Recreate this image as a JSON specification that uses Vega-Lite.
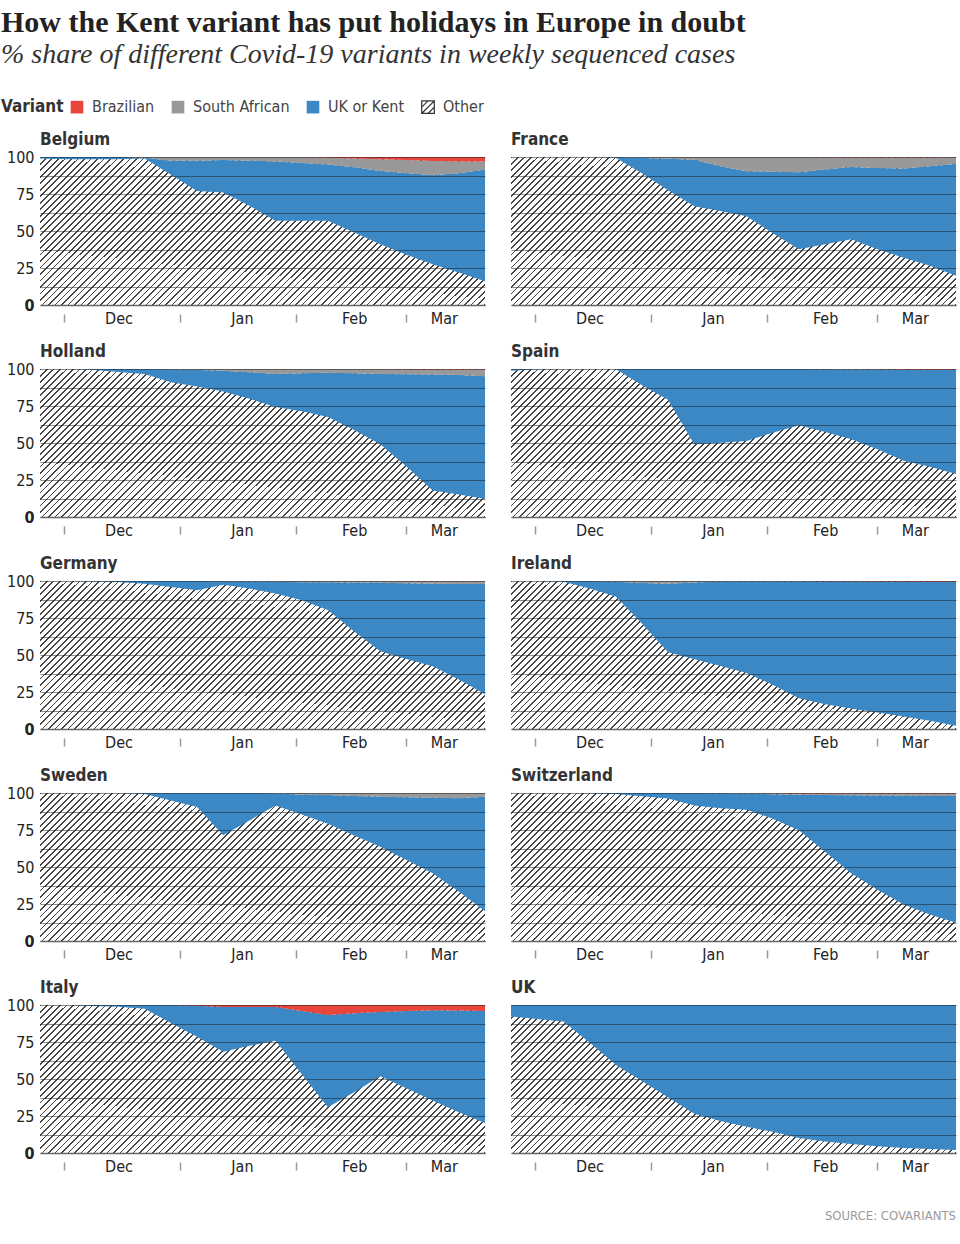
{
"$schema": "https://vega.github.io/schema/vega-lite/v6.json",
"background": "white",
"padding": {"left": 1, "top": 8, "right": 2, "bottom": 8},
"title": {"text": "How the Kent variant has put holidays in Europe in doubt", "subtitle": "% share of different Covid-19 variants in weekly sequenced cases", "anchor": "start", "frame": "bounds", "font": "Liberation Serif", "fontSize": 30, "fontWeight": "bold", "color": "#222", "subtitleFont": "Liberation Serif", "subtitleFontSize": 28, "subtitleFontStyle": "italic", "subtitleColor": "#333", "subtitlePadding": 3, "offset": 30, "dx": 0},
"data": {"values": [
{"country":"Belgium","week":"2020-11-23","d_oth":99,"c_uk":1,"b_saf":0,"a_bra":0},
{"country":"Belgium","week":"2020-11-30","d_oth":98.5,"c_uk":1.5,"b_saf":0,"a_bra":0},
{"country":"Belgium","week":"2020-12-07","d_oth":98.5,"c_uk":1.5,"b_saf":0,"a_bra":0},
{"country":"Belgium","week":"2020-12-14","d_oth":98.5,"c_uk":1.5,"b_saf":0,"a_bra":0},
{"country":"Belgium","week":"2020-12-21","d_oth":99,"c_uk":0.5,"b_saf":0.5,"a_bra":0},
{"country":"Belgium","week":"2020-12-28","d_oth":88,"c_uk":9.5,"b_saf":2.5,"a_bra":0},
{"country":"Belgium","week":"2021-01-04","d_oth":77,"c_uk":20.5,"b_saf":2.5,"a_bra":0},
{"country":"Belgium","week":"2021-01-11","d_oth":76,"c_uk":22,"b_saf":2,"a_bra":0},
{"country":"Belgium","week":"2021-01-18","d_oth":67,"c_uk":30.5,"b_saf":2.5,"a_bra":0},
{"country":"Belgium","week":"2021-01-25","d_oth":57,"c_uk":40,"b_saf":3,"a_bra":0},
{"country":"Belgium","week":"2021-02-01","d_oth":57,"c_uk":39,"b_saf":4,"a_bra":0},
{"country":"Belgium","week":"2021-02-08","d_oth":57,"c_uk":38,"b_saf":4.5,"a_bra":0.5},
{"country":"Belgium","week":"2021-02-15","d_oth":49,"c_uk":44,"b_saf":6,"a_bra":1},
{"country":"Belgium","week":"2021-02-22","d_oth":41,"c_uk":49.5,"b_saf":8,"a_bra":1.5},
{"country":"Belgium","week":"2021-03-01","d_oth":34,"c_uk":55,"b_saf":9,"a_bra":2},
{"country":"Belgium","week":"2021-03-08","d_oth":27.6,"c_uk":60,"b_saf":9.7,"a_bra":2.7},
{"country":"Belgium","week":"2021-03-15","d_oth":22,"c_uk":67,"b_saf":8,"a_bra":3},
{"country":"Belgium","week":"2021-03-22","d_oth":16,"c_uk":75.5,"b_saf":5.5,"a_bra":3},
{"country":"France","week":"2020-11-23","d_oth":100,"c_uk":0,"b_saf":0,"a_bra":0},
{"country":"France","week":"2020-11-30","d_oth":100,"c_uk":0,"b_saf":0,"a_bra":0},
{"country":"France","week":"2020-12-07","d_oth":100,"c_uk":0,"b_saf":0,"a_bra":0},
{"country":"France","week":"2020-12-14","d_oth":100,"c_uk":0,"b_saf":0,"a_bra":0},
{"country":"France","week":"2020-12-21","d_oth":99.5,"c_uk":0.5,"b_saf":0,"a_bra":0},
{"country":"France","week":"2020-12-28","d_oth":89,"c_uk":10.3,"b_saf":0.7,"a_bra":0},
{"country":"France","week":"2021-01-04","d_oth":77.6,"c_uk":21.3,"b_saf":1.1,"a_bra":0},
{"country":"France","week":"2021-01-11","d_oth":66.8,"c_uk":31.4,"b_saf":1.8,"a_bra":0},
{"country":"France","week":"2021-01-18","d_oth":63.5,"c_uk":30.2,"b_saf":6.3,"a_bra":0},
{"country":"France","week":"2021-01-25","d_oth":60,"c_uk":30.4,"b_saf":9.6,"a_bra":0},
{"country":"France","week":"2021-02-01","d_oth":48.4,"c_uk":41.6,"b_saf":10,"a_bra":0},
{"country":"France","week":"2021-02-08","d_oth":37.7,"c_uk":52,"b_saf":10.3,"a_bra":0},
{"country":"France","week":"2021-02-15","d_oth":41,"c_uk":50.5,"b_saf":8.3,"a_bra":0.2},
{"country":"France","week":"2021-02-22","d_oth":44.4,"c_uk":48.9,"b_saf":6.3,"a_bra":0.4},
{"country":"France","week":"2021-03-01","d_oth":37.7,"c_uk":54.9,"b_saf":7,"a_bra":0.4},
{"country":"France","week":"2021-03-08","d_oth":32,"c_uk":60.2,"b_saf":7.4,"a_bra":0.4},
{"country":"France","week":"2021-03-15","d_oth":26.5,"c_uk":67.2,"b_saf":6,"a_bra":0.3},
{"country":"France","week":"2021-03-22","d_oth":19.7,"c_uk":75.6,"b_saf":4.5,"a_bra":0.2},
{"country":"Holland","week":"2020-11-23","d_oth":100,"c_uk":0,"b_saf":0,"a_bra":0},
{"country":"Holland","week":"2020-11-30","d_oth":100,"c_uk":0,"b_saf":0,"a_bra":0},
{"country":"Holland","week":"2020-12-07","d_oth":99.5,"c_uk":0.5,"b_saf":0,"a_bra":0},
{"country":"Holland","week":"2020-12-14","d_oth":98,"c_uk":2,"b_saf":0,"a_bra":0},
{"country":"Holland","week":"2020-12-21","d_oth":96.6,"c_uk":3.4,"b_saf":0,"a_bra":0},
{"country":"Holland","week":"2020-12-28","d_oth":91,"c_uk":8.8,"b_saf":0.2,"a_bra":0},
{"country":"Holland","week":"2021-01-04","d_oth":88.2,"c_uk":11.1,"b_saf":0.7,"a_bra":0},
{"country":"Holland","week":"2021-01-11","d_oth":84.8,"c_uk":14.1,"b_saf":1.1,"a_bra":0},
{"country":"Holland","week":"2021-01-18","d_oth":79.9,"c_uk":17.9,"b_saf":2.2,"a_bra":0},
{"country":"Holland","week":"2021-01-25","d_oth":74.3,"c_uk":22.4,"b_saf":3.3,"a_bra":0},
{"country":"Holland","week":"2021-02-01","d_oth":71.4,"c_uk":25.7,"b_saf":2.9,"a_bra":0},
{"country":"Holland","week":"2021-02-08","d_oth":67.6,"c_uk":29.9,"b_saf":2.5,"a_bra":0},
{"country":"Holland","week":"2021-02-15","d_oth":58.7,"c_uk":38.4,"b_saf":2.9,"a_bra":0},
{"country":"Holland","week":"2021-02-22","d_oth":49.1,"c_uk":47.6,"b_saf":3.3,"a_bra":0},
{"country":"Holland","week":"2021-03-01","d_oth":34.2,"c_uk":62.2,"b_saf":3.3,"a_bra":0.3},
{"country":"Holland","week":"2021-03-08","d_oth":17.9,"c_uk":78.3,"b_saf":3.5,"a_bra":0.3},
{"country":"Holland","week":"2021-03-15","d_oth":15.2,"c_uk":80.8,"b_saf":3.7,"a_bra":0.3},
{"country":"Holland","week":"2021-03-22","d_oth":12.3,"c_uk":82.8,"b_saf":4.6,"a_bra":0.3},
{"country":"Spain","week":"2020-11-23","d_oth":98.9,"c_uk":1.1,"b_saf":0,"a_bra":0},
{"country":"Spain","week":"2020-11-30","d_oth":99.8,"c_uk":0.2,"b_saf":0,"a_bra":0},
{"country":"Spain","week":"2020-12-07","d_oth":100,"c_uk":0,"b_saf":0,"a_bra":0},
{"country":"Spain","week":"2020-12-14","d_oth":100,"c_uk":0,"b_saf":0,"a_bra":0},
{"country":"Spain","week":"2020-12-21","d_oth":100,"c_uk":0,"b_saf":0,"a_bra":0},
{"country":"Spain","week":"2020-12-28","d_oth":89,"c_uk":11,"b_saf":0,"a_bra":0},
{"country":"Spain","week":"2021-01-04","d_oth":79.2,"c_uk":20.8,"b_saf":0,"a_bra":0},
{"country":"Spain","week":"2021-01-11","d_oth":49.1,"c_uk":50.9,"b_saf":0,"a_bra":0},
{"country":"Spain","week":"2021-01-18","d_oth":50.2,"c_uk":49.8,"b_saf":0,"a_bra":0},
{"country":"Spain","week":"2021-01-25","d_oth":51.3,"c_uk":48.7,"b_saf":0,"a_bra":0},
{"country":"Spain","week":"2021-02-01","d_oth":57,"c_uk":43,"b_saf":0,"a_bra":0},
{"country":"Spain","week":"2021-02-08","d_oth":62,"c_uk":38,"b_saf":0,"a_bra":0},
{"country":"Spain","week":"2021-02-15","d_oth":57.4,"c_uk":42.4,"b_saf":0.2,"a_bra":0},
{"country":"Spain","week":"2021-02-22","d_oth":52.5,"c_uk":47.2,"b_saf":0.3,"a_bra":0},
{"country":"Spain","week":"2021-03-01","d_oth":45.8,"c_uk":53.8,"b_saf":0.2,"a_bra":0.2},
{"country":"Spain","week":"2021-03-08","d_oth":38,"c_uk":61.4,"b_saf":0.2,"a_bra":0.4},
{"country":"Spain","week":"2021-03-15","d_oth":34,"c_uk":65.3,"b_saf":0.2,"a_bra":0.5},
{"country":"Spain","week":"2021-03-22","d_oth":29,"c_uk":70.3,"b_saf":0.2,"a_bra":0.5},
{"country":"Germany","week":"2020-11-23","d_oth":100,"c_uk":0,"b_saf":0,"a_bra":0},
{"country":"Germany","week":"2020-11-30","d_oth":100,"c_uk":0,"b_saf":0,"a_bra":0},
{"country":"Germany","week":"2020-12-07","d_oth":99.6,"c_uk":0.4,"b_saf":0,"a_bra":0},
{"country":"Germany","week":"2020-12-14","d_oth":99.3,"c_uk":0.7,"b_saf":0,"a_bra":0},
{"country":"Germany","week":"2020-12-21","d_oth":98.2,"c_uk":1.8,"b_saf":0,"a_bra":0},
{"country":"Germany","week":"2020-12-28","d_oth":96,"c_uk":4,"b_saf":0,"a_bra":0},
{"country":"Germany","week":"2021-01-04","d_oth":93.8,"c_uk":6.2,"b_saf":0,"a_bra":0},
{"country":"Germany","week":"2021-01-11","d_oth":97.5,"c_uk":2.3,"b_saf":0.2,"a_bra":0},
{"country":"Germany","week":"2021-01-18","d_oth":94.9,"c_uk":4.7,"b_saf":0.4,"a_bra":0},
{"country":"Germany","week":"2021-01-25","d_oth":91.5,"c_uk":8,"b_saf":0.5,"a_bra":0},
{"country":"Germany","week":"2021-02-01","d_oth":87,"c_uk":12.2,"b_saf":0.8,"a_bra":0},
{"country":"Germany","week":"2021-02-08","d_oth":80.4,"c_uk":18.8,"b_saf":0.8,"a_bra":0},
{"country":"Germany","week":"2021-02-15","d_oth":65.8,"c_uk":33,"b_saf":1.2,"a_bra":0},
{"country":"Germany","week":"2021-02-22","d_oth":52.5,"c_uk":46.3,"b_saf":1.2,"a_bra":0},
{"country":"Germany","week":"2021-03-01","d_oth":47.3,"c_uk":51.2,"b_saf":1.4,"a_bra":0.1},
{"country":"Germany","week":"2021-03-08","d_oth":42.4,"c_uk":55.8,"b_saf":1.7,"a_bra":0.1},
{"country":"Germany","week":"2021-03-15","d_oth":33.5,"c_uk":64.5,"b_saf":1.9,"a_bra":0.1},
{"country":"Germany","week":"2021-03-22","d_oth":23.4,"c_uk":74.5,"b_saf":2,"a_bra":0.1},
{"country":"Ireland","week":"2020-11-23","d_oth":100,"c_uk":0,"b_saf":0,"a_bra":0},
{"country":"Ireland","week":"2020-11-30","d_oth":100,"c_uk":0,"b_saf":0,"a_bra":0},
{"country":"Ireland","week":"2020-12-07","d_oth":99.5,"c_uk":0.5,"b_saf":0,"a_bra":0},
{"country":"Ireland","week":"2020-12-14","d_oth":95,"c_uk":5,"b_saf":0,"a_bra":0},
{"country":"Ireland","week":"2020-12-21","d_oth":89.5,"c_uk":10,"b_saf":0.5,"a_bra":0},
{"country":"Ireland","week":"2020-12-28","d_oth":71.2,"c_uk":27.5,"b_saf":1.3,"a_bra":0},
{"country":"Ireland","week":"2021-01-04","d_oth":51.8,"c_uk":46.4,"b_saf":1.8,"a_bra":0},
{"country":"Ireland","week":"2021-01-11","d_oth":47.3,"c_uk":51.7,"b_saf":1,"a_bra":0},
{"country":"Ireland","week":"2021-01-18","d_oth":42.6,"c_uk":57,"b_saf":0.4,"a_bra":0},
{"country":"Ireland","week":"2021-01-25","d_oth":37.9,"c_uk":61.7,"b_saf":0.4,"a_bra":0},
{"country":"Ireland","week":"2021-02-01","d_oth":29.9,"c_uk":69.7,"b_saf":0.4,"a_bra":0},
{"country":"Ireland","week":"2021-02-08","d_oth":20.8,"c_uk":78.8,"b_saf":0.4,"a_bra":0},
{"country":"Ireland","week":"2021-02-15","d_oth":16.7,"c_uk":82.9,"b_saf":0.3,"a_bra":0.1},
{"country":"Ireland","week":"2021-02-22","d_oth":13.8,"c_uk":85.8,"b_saf":0.2,"a_bra":0.2},
{"country":"Ireland","week":"2021-03-01","d_oth":11.2,"c_uk":88.2,"b_saf":0.2,"a_bra":0.4},
{"country":"Ireland","week":"2021-03-08","d_oth":8.5,"c_uk":90.9,"b_saf":0.2,"a_bra":0.4},
{"country":"Ireland","week":"2021-03-15","d_oth":5.6,"c_uk":93.8,"b_saf":0.1,"a_bra":0.5},
{"country":"Ireland","week":"2021-03-22","d_oth":2.2,"c_uk":97.2,"b_saf":0.1,"a_bra":0.5},
{"country":"Sweden","week":"2020-11-23","d_oth":100,"c_uk":0,"b_saf":0,"a_bra":0},
{"country":"Sweden","week":"2020-11-30","d_oth":100,"c_uk":0,"b_saf":0,"a_bra":0},
{"country":"Sweden","week":"2020-12-07","d_oth":100,"c_uk":0,"b_saf":0,"a_bra":0},
{"country":"Sweden","week":"2020-12-14","d_oth":100,"c_uk":0,"b_saf":0,"a_bra":0},
{"country":"Sweden","week":"2020-12-21","d_oth":99.3,"c_uk":0.7,"b_saf":0,"a_bra":0},
{"country":"Sweden","week":"2020-12-28","d_oth":94.9,"c_uk":5.1,"b_saf":0,"a_bra":0},
{"country":"Sweden","week":"2021-01-04","d_oth":90.6,"c_uk":9.4,"b_saf":0,"a_bra":0},
{"country":"Sweden","week":"2021-01-11","d_oth":71.4,"c_uk":28.6,"b_saf":0,"a_bra":0},
{"country":"Sweden","week":"2021-01-18","d_oth":81.5,"c_uk":18.5,"b_saf":0,"a_bra":0},
{"country":"Sweden","week":"2021-01-25","d_oth":91.5,"c_uk":8.3,"b_saf":0.2,"a_bra":0},
{"country":"Sweden","week":"2021-02-01","d_oth":85.5,"c_uk":13.4,"b_saf":1.1,"a_bra":0},
{"country":"Sweden","week":"2021-02-08","d_oth":79.2,"c_uk":19.4,"b_saf":1.4,"a_bra":0},
{"country":"Sweden","week":"2021-02-15","d_oth":71.2,"c_uk":26.8,"b_saf":2,"a_bra":0},
{"country":"Sweden","week":"2021-02-22","d_oth":63.6,"c_uk":33.9,"b_saf":2.5,"a_bra":0},
{"country":"Sweden","week":"2021-03-01","d_oth":54.7,"c_uk":42.5,"b_saf":2.8,"a_bra":0},
{"country":"Sweden","week":"2021-03-08","d_oth":45.8,"c_uk":51,"b_saf":3.2,"a_bra":0},
{"country":"Sweden","week":"2021-03-15","d_oth":33.5,"c_uk":62.9,"b_saf":3.6,"a_bra":0},
{"country":"Sweden","week":"2021-03-22","d_oth":20.1,"c_uk":77.4,"b_saf":2.5,"a_bra":0},
{"country":"Switzerland","week":"2020-11-23","d_oth":100,"c_uk":0,"b_saf":0,"a_bra":0},
{"country":"Switzerland","week":"2020-11-30","d_oth":100,"c_uk":0,"b_saf":0,"a_bra":0},
{"country":"Switzerland","week":"2020-12-07","d_oth":100,"c_uk":0,"b_saf":0,"a_bra":0},
{"country":"Switzerland","week":"2020-12-14","d_oth":99.8,"c_uk":0.2,"b_saf":0,"a_bra":0},
{"country":"Switzerland","week":"2020-12-21","d_oth":99.3,"c_uk":0.7,"b_saf":0,"a_bra":0},
{"country":"Switzerland","week":"2020-12-28","d_oth":97.8,"c_uk":2.2,"b_saf":0,"a_bra":0},
{"country":"Switzerland","week":"2021-01-04","d_oth":96.2,"c_uk":3.8,"b_saf":0,"a_bra":0},
{"country":"Switzerland","week":"2021-01-11","d_oth":91.5,"c_uk":8.5,"b_saf":0,"a_bra":0},
{"country":"Switzerland","week":"2021-01-18","d_oth":89.7,"c_uk":10.2,"b_saf":0.1,"a_bra":0},
{"country":"Switzerland","week":"2021-01-25","d_oth":88.6,"c_uk":11.1,"b_saf":0.3,"a_bra":0},
{"country":"Switzerland","week":"2021-02-01","d_oth":82.6,"c_uk":16.6,"b_saf":0.6,"a_bra":0.2},
{"country":"Switzerland","week":"2021-02-08","d_oth":74.8,"c_uk":24.1,"b_saf":0.8,"a_bra":0.3},
{"country":"Switzerland","week":"2021-02-15","d_oth":60.3,"c_uk":38.4,"b_saf":1,"a_bra":0.3},
{"country":"Switzerland","week":"2021-02-22","d_oth":45.8,"c_uk":52.7,"b_saf":1.1,"a_bra":0.4},
{"country":"Switzerland","week":"2021-03-01","d_oth":34.6,"c_uk":63.7,"b_saf":1.3,"a_bra":0.4},
{"country":"Switzerland","week":"2021-03-08","d_oth":24.6,"c_uk":73.6,"b_saf":1.4,"a_bra":0.4},
{"country":"Switzerland","week":"2021-03-15","d_oth":17.9,"c_uk":80.1,"b_saf":1.6,"a_bra":0.4},
{"country":"Switzerland","week":"2021-03-22","d_oth":12.3,"c_uk":85.6,"b_saf":1.7,"a_bra":0.4},
{"country":"Italy","week":"2020-11-23","d_oth":100,"c_uk":0,"b_saf":0,"a_bra":0},
{"country":"Italy","week":"2020-11-30","d_oth":100,"c_uk":0,"b_saf":0,"a_bra":0},
{"country":"Italy","week":"2020-12-07","d_oth":99.3,"c_uk":0.7,"b_saf":0,"a_bra":0},
{"country":"Italy","week":"2020-12-14","d_oth":98.8,"c_uk":1.2,"b_saf":0,"a_bra":0},
{"country":"Italy","week":"2020-12-21","d_oth":97.5,"c_uk":2.5,"b_saf":0,"a_bra":0},
{"country":"Italy","week":"2020-12-28","d_oth":87.9,"c_uk":12.1,"b_saf":0,"a_bra":0},
{"country":"Italy","week":"2021-01-04","d_oth":78.5,"c_uk":21,"b_saf":0,"a_bra":0.5},
{"country":"Italy","week":"2021-01-11","d_oth":68.4,"c_uk":30.3,"b_saf":0,"a_bra":1.3},
{"country":"Italy","week":"2021-01-18","d_oth":72.4,"c_uk":26.3,"b_saf":0,"a_bra":1.3},
{"country":"Italy","week":"2021-01-25","d_oth":75.8,"c_uk":22.9,"b_saf":0,"a_bra":1.3},
{"country":"Italy","week":"2021-02-01","d_oth":53.2,"c_uk":42.8,"b_saf":0,"a_bra":4},
{"country":"Italy","week":"2021-02-08","d_oth":30.9,"c_uk":62.4,"b_saf":0,"a_bra":6.7},
{"country":"Italy","week":"2021-02-15","d_oth":41,"c_uk":53.5,"b_saf":0,"a_bra":5.5},
{"country":"Italy","week":"2021-02-22","d_oth":51.8,"c_uk":43.5,"b_saf":0,"a_bra":4.7},
{"country":"Italy","week":"2021-03-01","d_oth":43.7,"c_uk":52.3,"b_saf":0,"a_bra":4},
{"country":"Italy","week":"2021-03-08","d_oth":35.4,"c_uk":61,"b_saf":0,"a_bra":3.6},
{"country":"Italy","week":"2021-03-15","d_oth":27.6,"c_uk":68.6,"b_saf":0,"a_bra":3.8},
{"country":"Italy","week":"2021-03-22","d_oth":20.2,"c_uk":75.8,"b_saf":0,"a_bra":4},
{"country":"UK","week":"2020-11-23","d_oth":92.2,"c_uk":7.8,"b_saf":0,"a_bra":0},
{"country":"UK","week":"2020-11-30","d_oth":90.6,"c_uk":9.4,"b_saf":0,"a_bra":0},
{"country":"UK","week":"2020-12-07","d_oth":88.8,"c_uk":11.2,"b_saf":0,"a_bra":0},
{"country":"UK","week":"2020-12-14","d_oth":74.7,"c_uk":25.3,"b_saf":0,"a_bra":0},
{"country":"UK","week":"2020-12-21","d_oth":59.7,"c_uk":40.3,"b_saf":0,"a_bra":0},
{"country":"UK","week":"2020-12-28","d_oth":48.6,"c_uk":51.4,"b_saf":0,"a_bra":0},
{"country":"UK","week":"2021-01-04","d_oth":37.6,"c_uk":62.4,"b_saf":0,"a_bra":0},
{"country":"UK","week":"2021-01-11","d_oth":26.6,"c_uk":73.4,"b_saf":0,"a_bra":0},
{"country":"UK","week":"2021-01-18","d_oth":21.7,"c_uk":78.3,"b_saf":0,"a_bra":0},
{"country":"UK","week":"2021-01-25","d_oth":17.7,"c_uk":82.3,"b_saf":0,"a_bra":0},
{"country":"UK","week":"2021-02-01","d_oth":14.3,"c_uk":85.7,"b_saf":0,"a_bra":0},
{"country":"UK","week":"2021-02-08","d_oth":10.1,"c_uk":89.9,"b_saf":0,"a_bra":0},
{"country":"UK","week":"2021-02-15","d_oth":7.8,"c_uk":92.2,"b_saf":0,"a_bra":0},
{"country":"UK","week":"2021-02-22","d_oth":6,"c_uk":94,"b_saf":0,"a_bra":0},
{"country":"UK","week":"2021-03-01","d_oth":4.5,"c_uk":95.5,"b_saf":0,"a_bra":0},
{"country":"UK","week":"2021-03-08","d_oth":3.4,"c_uk":96.6,"b_saf":0,"a_bra":0},
{"country":"UK","week":"2021-03-15","d_oth":2.7,"c_uk":97.3,"b_saf":0,"a_bra":0},
{"country":"UK","week":"2021-03-22","d_oth":2,"c_uk":98,"b_saf":0,"a_bra":0}
]},
"transform": [{"fold": ["d_oth", "c_uk", "b_saf", "a_bra"], "as": ["variant", "share"]}],
"facet": {"field": "country", "type": "nominal", "title": "SOURCE: COVARIANTS",
  "sort": ["Belgium", "France", "Holland", "Spain", "Germany", "Ireland", "Sweden", "Switzerland", "Italy", "UK"],
  "header": {"labelOrient": "top", "titleOrient": "bottom", "titleAnchor": "end", "titleFontSize": 13, "titleFontWeight": "normal", "titleColor": "#9a9a9a", "titlePadding": 36}},
"columns": 2,
"spacing": {"row": 17, "column": 26},
"resolve": {"axis": {"x": "independent"}},
"spec": {
  "width": 445,
  "height": 148,
  "layer": [
    {
      "transform": [{"filter": "datum.variant === 'd_oth'"}],
      "mark": {"type": "area", "color": {"gradient": "linear", "x1": 0, "y1": 0, "x2": 1.315, "y2": 0.438, "stops": [
{"offset":0,"color":"#444"},{"offset":0.0025,"color":"#444"},{"offset":0.0025,"color":"#fff"},{"offset":0.01,"color":"#fff"},
{"offset":0.01,"color":"#444"},{"offset":0.0125,"color":"#444"},{"offset":0.0125,"color":"#fff"},{"offset":0.02,"color":"#fff"},
{"offset":0.02,"color":"#444"},{"offset":0.0225,"color":"#444"},{"offset":0.0225,"color":"#fff"},{"offset":0.03,"color":"#fff"},
{"offset":0.03,"color":"#444"},{"offset":0.0325,"color":"#444"},{"offset":0.0325,"color":"#fff"},{"offset":0.04,"color":"#fff"},
{"offset":0.04,"color":"#444"},{"offset":0.0425,"color":"#444"},{"offset":0.0425,"color":"#fff"},{"offset":0.05,"color":"#fff"},
{"offset":0.05,"color":"#444"},{"offset":0.0525,"color":"#444"},{"offset":0.0525,"color":"#fff"},{"offset":0.06,"color":"#fff"},
{"offset":0.06,"color":"#444"},{"offset":0.0625,"color":"#444"},{"offset":0.0625,"color":"#fff"},{"offset":0.07,"color":"#fff"},
{"offset":0.07,"color":"#444"},{"offset":0.0725,"color":"#444"},{"offset":0.0725,"color":"#fff"},{"offset":0.08,"color":"#fff"},
{"offset":0.08,"color":"#444"},{"offset":0.0825,"color":"#444"},{"offset":0.0825,"color":"#fff"},{"offset":0.09,"color":"#fff"},
{"offset":0.09,"color":"#444"},{"offset":0.0925,"color":"#444"},{"offset":0.0925,"color":"#fff"},{"offset":0.1,"color":"#fff"},
{"offset":0.1,"color":"#444"},{"offset":0.1025,"color":"#444"},{"offset":0.1025,"color":"#fff"},{"offset":0.11,"color":"#fff"},
{"offset":0.11,"color":"#444"},{"offset":0.1125,"color":"#444"},{"offset":0.1125,"color":"#fff"},{"offset":0.12,"color":"#fff"},
{"offset":0.12,"color":"#444"},{"offset":0.1225,"color":"#444"},{"offset":0.1225,"color":"#fff"},{"offset":0.13,"color":"#fff"},
{"offset":0.13,"color":"#444"},{"offset":0.1325,"color":"#444"},{"offset":0.1325,"color":"#fff"},{"offset":0.14,"color":"#fff"},
{"offset":0.14,"color":"#444"},{"offset":0.1425,"color":"#444"},{"offset":0.1425,"color":"#fff"},{"offset":0.15,"color":"#fff"},
{"offset":0.15,"color":"#444"},{"offset":0.1525,"color":"#444"},{"offset":0.1525,"color":"#fff"},{"offset":0.16,"color":"#fff"},
{"offset":0.16,"color":"#444"},{"offset":0.1625,"color":"#444"},{"offset":0.1625,"color":"#fff"},{"offset":0.17,"color":"#fff"},
{"offset":0.17,"color":"#444"},{"offset":0.1725,"color":"#444"},{"offset":0.1725,"color":"#fff"},{"offset":0.18,"color":"#fff"},
{"offset":0.18,"color":"#444"},{"offset":0.1825,"color":"#444"},{"offset":0.1825,"color":"#fff"},{"offset":0.19,"color":"#fff"},
{"offset":0.19,"color":"#444"},{"offset":0.1925,"color":"#444"},{"offset":0.1925,"color":"#fff"},{"offset":0.2,"color":"#fff"},
{"offset":0.2,"color":"#444"},{"offset":0.2025,"color":"#444"},{"offset":0.2025,"color":"#fff"},{"offset":0.21,"color":"#fff"},
{"offset":0.21,"color":"#444"},{"offset":0.2125,"color":"#444"},{"offset":0.2125,"color":"#fff"},{"offset":0.22,"color":"#fff"},
{"offset":0.22,"color":"#444"},{"offset":0.2225,"color":"#444"},{"offset":0.2225,"color":"#fff"},{"offset":0.23,"color":"#fff"},
{"offset":0.23,"color":"#444"},{"offset":0.2325,"color":"#444"},{"offset":0.2325,"color":"#fff"},{"offset":0.24,"color":"#fff"},
{"offset":0.24,"color":"#444"},{"offset":0.2425,"color":"#444"},{"offset":0.2425,"color":"#fff"},{"offset":0.25,"color":"#fff"},
{"offset":0.25,"color":"#444"},{"offset":0.2525,"color":"#444"},{"offset":0.2525,"color":"#fff"},{"offset":0.26,"color":"#fff"},
{"offset":0.26,"color":"#444"},{"offset":0.2625,"color":"#444"},{"offset":0.2625,"color":"#fff"},{"offset":0.27,"color":"#fff"},
{"offset":0.27,"color":"#444"},{"offset":0.2725,"color":"#444"},{"offset":0.2725,"color":"#fff"},{"offset":0.28,"color":"#fff"},
{"offset":0.28,"color":"#444"},{"offset":0.2825,"color":"#444"},{"offset":0.2825,"color":"#fff"},{"offset":0.29,"color":"#fff"},
{"offset":0.29,"color":"#444"},{"offset":0.2925,"color":"#444"},{"offset":0.2925,"color":"#fff"},{"offset":0.3,"color":"#fff"},
{"offset":0.3,"color":"#444"},{"offset":0.3025,"color":"#444"},{"offset":0.3025,"color":"#fff"},{"offset":0.31,"color":"#fff"},
{"offset":0.31,"color":"#444"},{"offset":0.3125,"color":"#444"},{"offset":0.3125,"color":"#fff"},{"offset":0.32,"color":"#fff"},
{"offset":0.32,"color":"#444"},{"offset":0.3225,"color":"#444"},{"offset":0.3225,"color":"#fff"},{"offset":0.33,"color":"#fff"},
{"offset":0.33,"color":"#444"},{"offset":0.3325,"color":"#444"},{"offset":0.3325,"color":"#fff"},{"offset":0.34,"color":"#fff"},
{"offset":0.34,"color":"#444"},{"offset":0.3425,"color":"#444"},{"offset":0.3425,"color":"#fff"},{"offset":0.35,"color":"#fff"},
{"offset":0.35,"color":"#444"},{"offset":0.3525,"color":"#444"},{"offset":0.3525,"color":"#fff"},{"offset":0.36,"color":"#fff"},
{"offset":0.36,"color":"#444"},{"offset":0.3625,"color":"#444"},{"offset":0.3625,"color":"#fff"},{"offset":0.37,"color":"#fff"},
{"offset":0.37,"color":"#444"},{"offset":0.3725,"color":"#444"},{"offset":0.3725,"color":"#fff"},{"offset":0.38,"color":"#fff"},
{"offset":0.38,"color":"#444"},{"offset":0.3825,"color":"#444"},{"offset":0.3825,"color":"#fff"},{"offset":0.39,"color":"#fff"},
{"offset":0.39,"color":"#444"},{"offset":0.3925,"color":"#444"},{"offset":0.3925,"color":"#fff"},{"offset":0.4,"color":"#fff"},
{"offset":0.4,"color":"#444"},{"offset":0.4025,"color":"#444"},{"offset":0.4025,"color":"#fff"},{"offset":0.41,"color":"#fff"},
{"offset":0.41,"color":"#444"},{"offset":0.4125,"color":"#444"},{"offset":0.4125,"color":"#fff"},{"offset":0.42,"color":"#fff"},
{"offset":0.42,"color":"#444"},{"offset":0.4225,"color":"#444"},{"offset":0.4225,"color":"#fff"},{"offset":0.43,"color":"#fff"},
{"offset":0.43,"color":"#444"},{"offset":0.4325,"color":"#444"},{"offset":0.4325,"color":"#fff"},{"offset":0.44,"color":"#fff"},
{"offset":0.44,"color":"#444"},{"offset":0.4425,"color":"#444"},{"offset":0.4425,"color":"#fff"},{"offset":0.45,"color":"#fff"},
{"offset":0.45,"color":"#444"},{"offset":0.4525,"color":"#444"},{"offset":0.4525,"color":"#fff"},{"offset":0.46,"color":"#fff"},
{"offset":0.46,"color":"#444"},{"offset":0.4625,"color":"#444"},{"offset":0.4625,"color":"#fff"},{"offset":0.47,"color":"#fff"},
{"offset":0.47,"color":"#444"},{"offset":0.4725,"color":"#444"},{"offset":0.4725,"color":"#fff"},{"offset":0.48,"color":"#fff"},
{"offset":0.48,"color":"#444"},{"offset":0.4825,"color":"#444"},{"offset":0.4825,"color":"#fff"},{"offset":0.49,"color":"#fff"},
{"offset":0.49,"color":"#444"},{"offset":0.4925,"color":"#444"},{"offset":0.4925,"color":"#fff"},{"offset":0.5,"color":"#fff"},
{"offset":0.5,"color":"#444"},{"offset":0.5025,"color":"#444"},{"offset":0.5025,"color":"#fff"},{"offset":0.51,"color":"#fff"},
{"offset":0.51,"color":"#444"},{"offset":0.5125,"color":"#444"},{"offset":0.5125,"color":"#fff"},{"offset":0.52,"color":"#fff"},
{"offset":0.52,"color":"#444"},{"offset":0.5225,"color":"#444"},{"offset":0.5225,"color":"#fff"},{"offset":0.53,"color":"#fff"},
{"offset":0.53,"color":"#444"},{"offset":0.5325,"color":"#444"},{"offset":0.5325,"color":"#fff"},{"offset":0.54,"color":"#fff"},
{"offset":0.54,"color":"#444"},{"offset":0.5425,"color":"#444"},{"offset":0.5425,"color":"#fff"},{"offset":0.55,"color":"#fff"},
{"offset":0.55,"color":"#444"},{"offset":0.5525,"color":"#444"},{"offset":0.5525,"color":"#fff"},{"offset":0.56,"color":"#fff"},
{"offset":0.56,"color":"#444"},{"offset":0.5625,"color":"#444"},{"offset":0.5625,"color":"#fff"},{"offset":0.57,"color":"#fff"},
{"offset":0.57,"color":"#444"},{"offset":0.5725,"color":"#444"},{"offset":0.5725,"color":"#fff"},{"offset":0.58,"color":"#fff"},
{"offset":0.58,"color":"#444"},{"offset":0.5825,"color":"#444"},{"offset":0.5825,"color":"#fff"},{"offset":0.59,"color":"#fff"},
{"offset":0.59,"color":"#444"},{"offset":0.5925,"color":"#444"},{"offset":0.5925,"color":"#fff"},{"offset":0.6,"color":"#fff"},
{"offset":0.6,"color":"#444"},{"offset":0.6025,"color":"#444"},{"offset":0.6025,"color":"#fff"},{"offset":0.61,"color":"#fff"},
{"offset":0.61,"color":"#444"},{"offset":0.6125,"color":"#444"},{"offset":0.6125,"color":"#fff"},{"offset":0.62,"color":"#fff"},
{"offset":0.62,"color":"#444"},{"offset":0.6225,"color":"#444"},{"offset":0.6225,"color":"#fff"},{"offset":0.63,"color":"#fff"},
{"offset":0.63,"color":"#444"},{"offset":0.6325,"color":"#444"},{"offset":0.6325,"color":"#fff"},{"offset":0.64,"color":"#fff"},
{"offset":0.64,"color":"#444"},{"offset":0.6425,"color":"#444"},{"offset":0.6425,"color":"#fff"},{"offset":0.65,"color":"#fff"},
{"offset":0.65,"color":"#444"},{"offset":0.6525,"color":"#444"},{"offset":0.6525,"color":"#fff"},{"offset":0.66,"color":"#fff"},
{"offset":0.66,"color":"#444"},{"offset":0.6625,"color":"#444"},{"offset":0.6625,"color":"#fff"},{"offset":0.67,"color":"#fff"},
{"offset":0.67,"color":"#444"},{"offset":0.6725,"color":"#444"},{"offset":0.6725,"color":"#fff"},{"offset":0.68,"color":"#fff"},
{"offset":0.68,"color":"#444"},{"offset":0.6825,"color":"#444"},{"offset":0.6825,"color":"#fff"},{"offset":0.69,"color":"#fff"},
{"offset":0.69,"color":"#444"},{"offset":0.6925,"color":"#444"},{"offset":0.6925,"color":"#fff"},{"offset":0.7,"color":"#fff"},
{"offset":0.7,"color":"#444"},{"offset":0.7025,"color":"#444"},{"offset":0.7025,"color":"#fff"},{"offset":0.71,"color":"#fff"},
{"offset":0.71,"color":"#444"},{"offset":0.7125,"color":"#444"},{"offset":0.7125,"color":"#fff"},{"offset":0.72,"color":"#fff"},
{"offset":0.72,"color":"#444"},{"offset":0.7225,"color":"#444"},{"offset":0.7225,"color":"#fff"},{"offset":0.73,"color":"#fff"},
{"offset":0.73,"color":"#444"},{"offset":0.7325,"color":"#444"},{"offset":0.7325,"color":"#fff"},{"offset":0.74,"color":"#fff"},
{"offset":0.74,"color":"#444"},{"offset":0.7425,"color":"#444"},{"offset":0.7425,"color":"#fff"},{"offset":0.75,"color":"#fff"},
{"offset":0.75,"color":"#444"},{"offset":0.7525,"color":"#444"},{"offset":0.7525,"color":"#fff"},{"offset":0.76,"color":"#fff"},
{"offset":0.76,"color":"#444"},{"offset":0.7625,"color":"#444"},{"offset":0.7625,"color":"#fff"},{"offset":0.77,"color":"#fff"},
{"offset":0.77,"color":"#444"},{"offset":0.7725,"color":"#444"},{"offset":0.7725,"color":"#fff"},{"offset":0.78,"color":"#fff"},
{"offset":0.78,"color":"#444"},{"offset":0.7825,"color":"#444"},{"offset":0.7825,"color":"#fff"},{"offset":0.79,"color":"#fff"},
{"offset":0.79,"color":"#444"},{"offset":0.7925,"color":"#444"},{"offset":0.7925,"color":"#fff"},{"offset":0.8,"color":"#fff"},
{"offset":0.8,"color":"#444"},{"offset":0.8025,"color":"#444"},{"offset":0.8025,"color":"#fff"},{"offset":0.81,"color":"#fff"},
{"offset":0.81,"color":"#444"},{"offset":0.8125,"color":"#444"},{"offset":0.8125,"color":"#fff"},{"offset":0.82,"color":"#fff"},
{"offset":0.82,"color":"#444"},{"offset":0.8225,"color":"#444"},{"offset":0.8225,"color":"#fff"},{"offset":0.83,"color":"#fff"},
{"offset":0.83,"color":"#444"},{"offset":0.8325,"color":"#444"},{"offset":0.8325,"color":"#fff"},{"offset":0.84,"color":"#fff"},
{"offset":0.84,"color":"#444"},{"offset":0.8425,"color":"#444"},{"offset":0.8425,"color":"#fff"},{"offset":0.85,"color":"#fff"},
{"offset":0.85,"color":"#444"},{"offset":0.8525,"color":"#444"},{"offset":0.8525,"color":"#fff"},{"offset":0.86,"color":"#fff"},
{"offset":0.86,"color":"#444"},{"offset":0.8625,"color":"#444"},{"offset":0.8625,"color":"#fff"},{"offset":0.87,"color":"#fff"},
{"offset":0.87,"color":"#444"},{"offset":0.8725,"color":"#444"},{"offset":0.8725,"color":"#fff"},{"offset":0.88,"color":"#fff"},
{"offset":0.88,"color":"#444"},{"offset":0.8825,"color":"#444"},{"offset":0.8825,"color":"#fff"},{"offset":0.89,"color":"#fff"},
{"offset":0.89,"color":"#444"},{"offset":0.8925,"color":"#444"},{"offset":0.8925,"color":"#fff"},{"offset":0.9,"color":"#fff"},
{"offset":0.9,"color":"#444"},{"offset":0.9025,"color":"#444"},{"offset":0.9025,"color":"#fff"},{"offset":0.91,"color":"#fff"},
{"offset":0.91,"color":"#444"},{"offset":0.9125,"color":"#444"},{"offset":0.9125,"color":"#fff"},{"offset":0.92,"color":"#fff"},
{"offset":0.92,"color":"#444"},{"offset":0.9225,"color":"#444"},{"offset":0.9225,"color":"#fff"},{"offset":0.93,"color":"#fff"},
{"offset":0.93,"color":"#444"},{"offset":0.9325,"color":"#444"},{"offset":0.9325,"color":"#fff"},{"offset":1,"color":"#fff"}
      ]}},
      "encoding": {
        "x": {"field": "week", "type": "temporal"},
        "y": {"datum": 100, "type": "quantitative"}
      }
    },
    {
      "mark": {"type": "area", "clip": true},
      "encoding": {
        "x": {"field": "week", "type": "temporal", "scale": {"type": "utc", "nice": false},
          "axis": {"title": null, "grid": false, "zindex": 1, "tickCount": 20,
            "values": [
              {"year": 2020, "month": 11, "date": 29, "hours": 12, "utc": true},
              {"year": 2020, "month": 12, "date": 14, "utc": true},
              {"year": 2020, "month": 12, "date": 30, "hours": 12, "utc": true},
              {"year": 2021, "month": 1, "date": 16, "utc": true},
              {"year": 2021, "month": 1, "date": 30, "hours": 12, "utc": true},
              {"year": 2021, "month": 2, "date": 15, "utc": true},
              {"year": 2021, "month": 3, "date": 1, "utc": true},
              {"year": 2021, "month": 3, "date": 11, "utc": true}
            ],
            "labelExpr": "utcdate(datum.value) > 5 && utcdate(datum.value) < 25 ? utcFormat(datum.value, '%b') : ''",
            "tickOpacity": {"condition": {"test": "utcdate(datum.value) > 5 && utcdate(datum.value) < 25", "value": 0}, "value": 1},
            "tickSize": 17, "tickDash": [0, 9, 8, 40], "tickColor": "#9a9a9a", "tickWidth": 1.5,
            "labelPadding": -12, "labelFontSize": 16, "labelColor": "#222", "labelFlush": false, "labelOverlap": false,
            "domainColor": "#666", "domainWidth": 1.5}},
        "y": {"field": "share", "type": "quantitative", "stack": "zero", "scale": {"domain": [0, 100], "nice": false},
          "axis": {"title": null, "values": [0, 12.5, 25, 37.5, 50, 62.5, 75, 87.5, 100], "tickCount": 20,
            "labelExpr": "datum.value % 25 === 0 ? datum.label : ''", "labelOverlap": false,
            "domain": false, "ticks": false, "grid": true, "gridColor": "#1a1a1a", "gridOpacity": 0.5, "gridWidth": 1, "zindex": 1,
            "labelFontSize": 16, "labelColor": "#222", "labelPadding": 6,
            "labelFontWeight": {"condition": {"test": "datum.value === 0", "value": "bold"}, "value": "normal"}}},
        "color": {"field": "variant", "type": "nominal",
          "scale": {"domain": ["a_bra", "b_saf", "c_uk", "d_oth"], "range": ["#e8453c", "#999999", "#3b88c4", "transparent"]},
          "legend": {"title": "Variant", "orient": "none", "legendX": -39, "legendY": -58, "direction": "horizontal", "titleOrient": "left",
            "titleFontSize": 17, "titleFontWeight": "bold", "titleColor": "#333", "titlePadding": 5,
            "labelFontSize": 16, "labelColor": "#444", "labelOffset": 7, "columnPadding": 14,
            "symbolSize": 160, "symbolType": "square",
            "labelExpr": "datum.label == 'a_bra' ? 'Brazilian' : datum.label == 'b_saf' ? 'South African' : datum.label == 'c_uk' ? 'UK or Kent' : 'Other'",
            "encode": {"symbols": {"update": {
              "shape": {"signal": "datum.value == 'd_oth' ? 'M-1,-1H1V1H-1Z M-1,0L0,-1 M-1,1L1,-1 M0,1L1,0' : 'square'"},
              "stroke": {"signal": "datum.value == 'd_oth' ? '#333' : 'transparent'"},
              "strokeWidth": {"value": 1.2}}}}}}
      }
    }
  ]
},
"config": {
  "font": "Liberation Sans Narrow, DejaVu Sans Condensed, Roboto Condensed, Roboto",
  "view": {"stroke": null},
  "header": {"labelFontSize": 17, "labelFontWeight": "bold", "labelColor": "#333", "labelAnchor": "start", "labelAlign": "left", "labelPadding": 8}
}
}
